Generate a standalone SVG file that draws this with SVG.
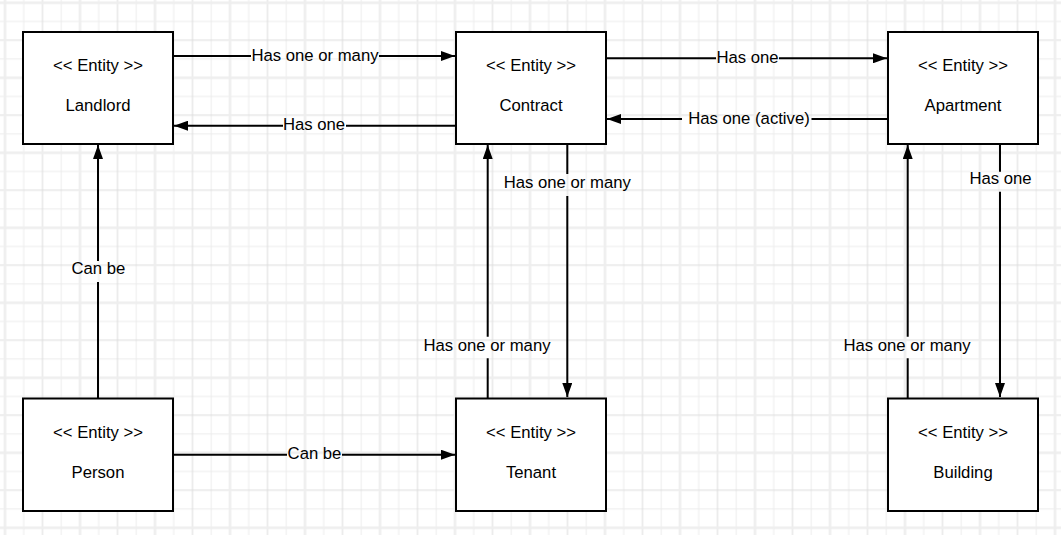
<svg xmlns="http://www.w3.org/2000/svg" width="1061" height="535" viewBox="0 0 1061 535">
<style>
.box{fill:#fff;stroke:#000;stroke-width:2}
.t{font-family:"Liberation Sans",Arial,sans-serif;font-size:16.7px;fill:#000;text-anchor:middle}
.c{fill:none;stroke:#000;stroke-width:2;marker-end:url(#ah)}
</style>
<defs>
<marker id="ah" markerUnits="userSpaceOnUse" markerWidth="14" markerHeight="10" refX="14" refY="5" orient="auto">
<path d="M0,0 L14,5 L0,10 z" fill="#000"/>
</marker>
<pattern id="grid" patternUnits="userSpaceOnUse" x="-4.375" y="-6.675" width="75" height="75">
<g stroke="#ececec" stroke-width="1">
<path d="M28.125,0 V75 M65.625,0 V75 M0,28.125 H75 M0,65.625 H75"/>
</g>
<path d="M46.875,0 V75 M0,46.875 H75" stroke="#dcdcdc" stroke-width="1"/>
<path d="M9.375,0 V75 M0,9.375 H75" stroke="#eeeeee" stroke-width="2.5"/>
</pattern>
</defs>
<rect width="1061" height="535" fill="#fff"/>
<rect width="1061" height="535" fill="url(#grid)"/>

<g id="connectors">
<g id="landlord-contract"><path class="c" d="M173,56 H251 M379,56 H455"/><text class="t" x="315" y="60.5">Has one or many</text></g>
<g id="contract-landlord"><path class="c" d="M456,125.7 H346 M283,125.7 H174"/><text class="t" x="314" y="130">Has one</text></g>
<g id="contract-apartment"><path class="c" d="M606,58.3 H716 M779,58.3 H887"/><text class="t" x="747.5" y="62.8">Has one</text></g>
<g id="apartment-contract"><path class="c" d="M888,119 H811.5 M682,119 H607"/><text class="t" x="749" y="123.5">Has one (active)</text></g>
<g id="person-landlord"><path class="c" d="M98,398 V282 M98,261 V145"/><text class="t" x="98.3" y="274.3">Can be</text></g>
<g id="person-tenant"><path class="c" d="M173,454.7 H287 M342,454.7 H455"/><text class="t" x="314.5" y="459">Can be</text></g>
<g id="tenant-contract"><path class="c" d="M487.7,398 V358.3 M487.7,336.7 V145"/><text class="t" x="487" y="350.7">Has one or many</text></g>
<g id="contract-tenant"><path class="c" d="M567.3,144 V174 M567.3,196 V397"/><text class="t" x="567.3" y="188.3">Has one or many</text></g>
<g id="building-apartment"><path class="c" d="M907.7,398 V358.3 M907.7,336.7 V145"/><text class="t" x="907" y="350.7">Has one or many</text></g>
<g id="apartment-building"><path class="c" d="M1000,144 V171.7 M1000,191.7 V397"/><text class="t" x="1000.5" y="184.3">Has one</text></g>
</g>

<g id="landlord"><rect class="box" x="23" y="32" width="150" height="112"/><text class="t" x="98" y="71">&lt;&lt; Entity &gt;&gt;</text><text class="t" x="98" y="111">Landlord</text></g>
<g id="contract"><rect class="box" x="456" y="32" width="150" height="112"/><text class="t" x="531" y="71">&lt;&lt; Entity &gt;&gt;</text><text class="t" x="531" y="111">Contract</text></g>
<g id="apartment"><rect class="box" x="888" y="32" width="150" height="112"/><text class="t" x="963" y="71">&lt;&lt; Entity &gt;&gt;</text><text class="t" x="963" y="111">Apartment</text></g>
<g id="person"><rect class="box" x="23" y="398.5" width="150" height="112.5"/><text class="t" x="98" y="437.7">&lt;&lt; Entity &gt;&gt;</text><text class="t" x="98" y="477.7">Person</text></g>
<g id="tenant"><rect class="box" x="456" y="398.5" width="150" height="112.5"/><text class="t" x="531" y="437.7">&lt;&lt; Entity &gt;&gt;</text><text class="t" x="531" y="477.7">Tenant</text></g>
<g id="building"><rect class="box" x="888" y="398.5" width="150" height="112.5"/><text class="t" x="963" y="437.7">&lt;&lt; Entity &gt;&gt;</text><text class="t" x="963" y="477.7">Building</text></g>
</svg>
